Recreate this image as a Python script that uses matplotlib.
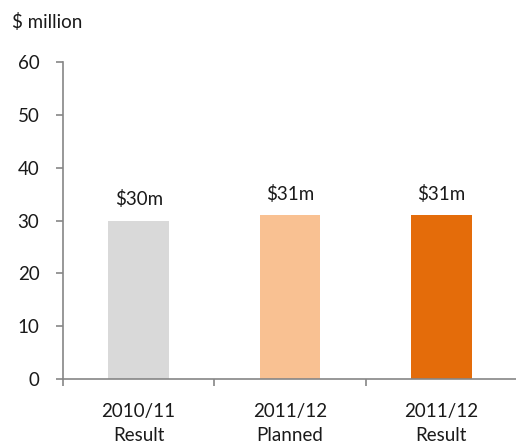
import matplotlib
matplotlib.use("Agg")
import matplotlib.pyplot as plt

# Programme cost by year, $ million
categories = ["2010/11\nResult", "2011/12\nPlanned", "2011/12\nResult"]
values = [30, 31, 31]
labels = ["$30m", "$31m", "$31m"]
colors = ["#D9D9D9", "#F9C192", "#E46C0A"]

plt.rcParams['font.family'] = ['Lato', 'DejaVu Sans']
plt.rcParams['font.size'] = 13.5

fig = plt.figure(figsize=(5.16, 4.48), dpi=100)
ax = fig.add_axes([63 / 516, 1 - 379 / 448, 454 / 516, 317 / 448])

x = range(len(values))
ax.bar(x, values, width=0.4, color=colors)

# value labels above each bar
for i, (v, lab) in enumerate(zip(values, labels)):
    ax.text(i, v + 4.0, lab, ha="center", va="center", color="#1a1a1a")

ax.set_xlim(-0.5, 2.5)
ax.set_ylim(0, 60)
ax.set_yticks(range(0, 61, 10))

# category ticks sit on the boundaries between bars
ax.set_xticks([-0.5, 0.5, 1.5, 2.5])
ax.set_xticklabels([])
for i, c in enumerate(categories):
    ax.text(i, -4.6, c, ha="center", va="top",
            linespacing=1.5, color="#1a1a1a", clip_on=False)

for side in ["top", "right"]:
    ax.spines[side].set_visible(False)
for side in ["left", "bottom"]:
    ax.spines[side].set_color("#868686")
    ax.spines[side].set_linewidth(1.2)
ax.tick_params(axis="both", colors="#868686", length=5, width=1.2, labelcolor="#1a1a1a")
ax.tick_params(axis="y", pad=12)

fig.text(12 / 516, 1 - 22 / 448, "$ million", ha="left", va="center",
         color="#1a1a1a")

fig.savefig("out.png", dpi=100)
